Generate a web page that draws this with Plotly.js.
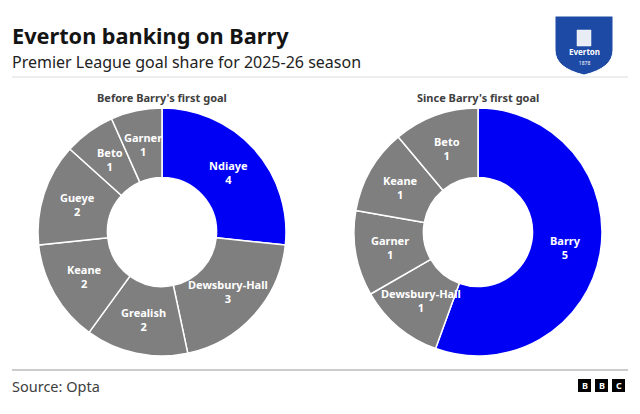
<!DOCTYPE html>
<html><head><meta charset="utf-8">
<script src="https://cdn.plot.ly/plotly-3.0.1.min.js"></script>
<style>html,body{margin:0;padding:0;background:#fff}#chart{width:640px;height:414px}</style>
</head><body><div id="chart"></div>
<script>
// Data
const beforeLabels = ["Ndiaye", "Dewsbury-Hall", "Grealish", "Keane", "Gueye", "Beto", "Garner"];
const beforeGoals  = [4, 3, 2, 2, 2, 1, 1];
const sinceLabels  = ["Barry", "Dewsbury-Hall", "Garner", "Keane", "Beto"];
const sinceGoals   = [5, 1, 1, 1, 1];
const highlight    = {"Ndiaye": true, "Barry": true};

const BLUE = "#0000f5", GREY = "#7f7f7f";
const FONT = "Noto Sans, Roboto, sans-serif";
const HOLE = 0.44;
const W = 640, H = 414;
const px = x => x / W, py = y => 1 - y / H;

function colours(labels){ return labels.map(l => highlight[l] ? BLUE : GREY); }

function pie(labels, values, domain){
  return {
    type: "pie", labels: labels, values: values, sort: false, direction: "clockwise", rotation: 0,
    hole: HOLE, domain: domain,
    marker: {colors: colours(labels), line: {color: "#ffffff", width: 1.5}},
    textinfo: "none", hoverinfo: "label+value", showlegend: false
  };
}

// Slice labels placed at each slice's centroid, derived from the data and the pie domain
function sliceLabels(labels, values, domain){
  const x0 = domain.x[0] * W, x1 = domain.x[1] * W;
  const y0 = (1 - domain.y[1]) * H, y1 = (1 - domain.y[0]) * H;
  const cx = (x0 + x1) / 2, cy = (y0 + y1) / 2;
  const R = Math.min(x1 - x0, y1 - y0) / 2;
  const r = R * (1 + HOLE) / 2;
  const total = values.reduce((a, b) => a + b, 0);
  const out = [];
  let cum = 0;
  labels.forEach((lab, i) => {
    const th = (cum + values[i] / 2) / total * 2 * Math.PI;
    cum += values[i];
    const x = cx + r * Math.sin(th), y = cy - r * Math.cos(th);
    out.push({text: lab + "<br>" + values[i], xref: "paper", yref: "paper", x: px(x), y: py(y), xanchor: "center", yanchor: "middle",
      showarrow: false, borderpad: 0, font: {size: 11, color: "#ffffff", family: FONT, weight: 700}});
  });
  return out;
}

const domBefore = {x: [px(38), px(286)], y: [py(356), py(108)]};
const domSince  = {x: [px(354), px(602)], y: [py(356), py(108)]};

const data = [
  pie(beforeLabels, beforeGoals, domBefore),
  pie(sinceLabels, sinceGoals, domSince)
];

// Everton crest (decorative)
const crest = "M " + px(555) + "," + py(16) + " L " + px(613) + "," + py(16) +
  " L " + px(613) + "," + py(50) + " Q " + px(613) + "," + py(68) + " " + px(584) + "," + py(75) +
  " Q " + px(555) + "," + py(68) + " " + px(555) + "," + py(50) + " Z";
const tower = "M " + px(577) + "," + py(30) + " L " + px(591) + "," + py(30) + " L " + px(591) + "," + py(46) +
  " L " + px(577) + "," + py(46) + " Z";

const layout = {
  width: W, height: H, margin: {l: 0, r: 0, t: 0, b: 0},
  paper_bgcolor: "#ffffff", plot_bgcolor: "#ffffff",
  font: {family: FONT, color: "#222"},
  shapes: [
    {type: "line", xref: "paper", yref: "paper", x0: px(12), x1: px(628), y0: py(77), y1: py(77), line: {color: "#dcdcdc", width: 1}},
    {type: "line", xref: "paper", yref: "paper", x0: px(12), x1: px(628), y0: py(370), y1: py(370), line: {color: "#999999", width: 1}},
    {type: "path", xref: "paper", yref: "paper", path: crest, fillcolor: "#1d4aa5", line: {color: "#ffffff", width: 1}},
    {type: "path", xref: "paper", yref: "paper", path: tower, fillcolor: "#e8ecf5", line: {color: "#ffffff", width: 0.5}},
    {type: "rect", xref: "paper", yref: "paper", x0: px(578), x1: px(591), y0: py(392), y1: py(379), fillcolor: "#000", line: {width: 0}},
    {type: "rect", xref: "paper", yref: "paper", x0: px(595), x1: px(608), y0: py(392), y1: py(379), fillcolor: "#000", line: {width: 0}},
    {type: "rect", xref: "paper", yref: "paper", x0: px(612), x1: px(625), y0: py(392), y1: py(379), fillcolor: "#000", line: {width: 0}}
  ],
  annotations: [
    {text: "<b>Everton banking on Barry</b>", xref: "paper", yref: "paper", x: px(10), y: py(35), xanchor: "left", yanchor: "middle", showarrow: false, font: {size: 21.7, color: "#141414", family: FONT}},
    {text: "Premier League goal share for 2025-26 season", xref: "paper", yref: "paper", x: px(10), y: py(62), xanchor: "left", yanchor: "middle", showarrow: false, font: {size: 16, color: "#222", family: FONT}},
    {text: "<b>Before Barry's first goal</b>", xref: "paper", yref: "paper", x: px(162), y: py(98), xanchor: "center", yanchor: "middle", showarrow: false, font: {size: 11, color: "#404040", family: FONT}},
    {text: "<b>Since Barry's first goal</b>", xref: "paper", yref: "paper", x: px(478), y: py(98), xanchor: "center", yanchor: "middle", showarrow: false, font: {size: 11, color: "#404040", family: FONT}},
    {text: "Source: Opta", xref: "paper", yref: "paper", x: px(10), y: py(386), xanchor: "left", yanchor: "middle", showarrow: false, font: {size: 14.5, color: "#404040", family: FONT}},
    {text: "<b>B</b>", xref: "paper", yref: "paper", x: px(584.5), y: py(385.5), xanchor: "center", yanchor: "middle", showarrow: false, font: {size: 9, color: "#fff", family: FONT}},
    {text: "<b>B</b>", xref: "paper", yref: "paper", x: px(601.5), y: py(385.5), xanchor: "center", yanchor: "middle", showarrow: false, font: {size: 9, color: "#fff", family: FONT}},
    {text: "<b>C</b>", xref: "paper", yref: "paper", x: px(618.5), y: py(385.5), xanchor: "center", yanchor: "middle", showarrow: false, font: {size: 9, color: "#fff", family: FONT}},
    {text: "<b>Everton</b><br><span style='font-size:5px'>1878</span>", xref: "paper", yref: "paper", x: px(584), y: py(56), xanchor: "center", yanchor: "middle", showarrow: false, font: {size: 8, color: "#fff", family: FONT}}
  ].concat(sliceLabels(beforeLabels, beforeGoals, domBefore), sliceLabels(sinceLabels, sinceGoals, domSince))
};

Plotly.newPlot("chart", data, layout, {displayModeBar: false, staticPlot: true});
</script></body></html>
